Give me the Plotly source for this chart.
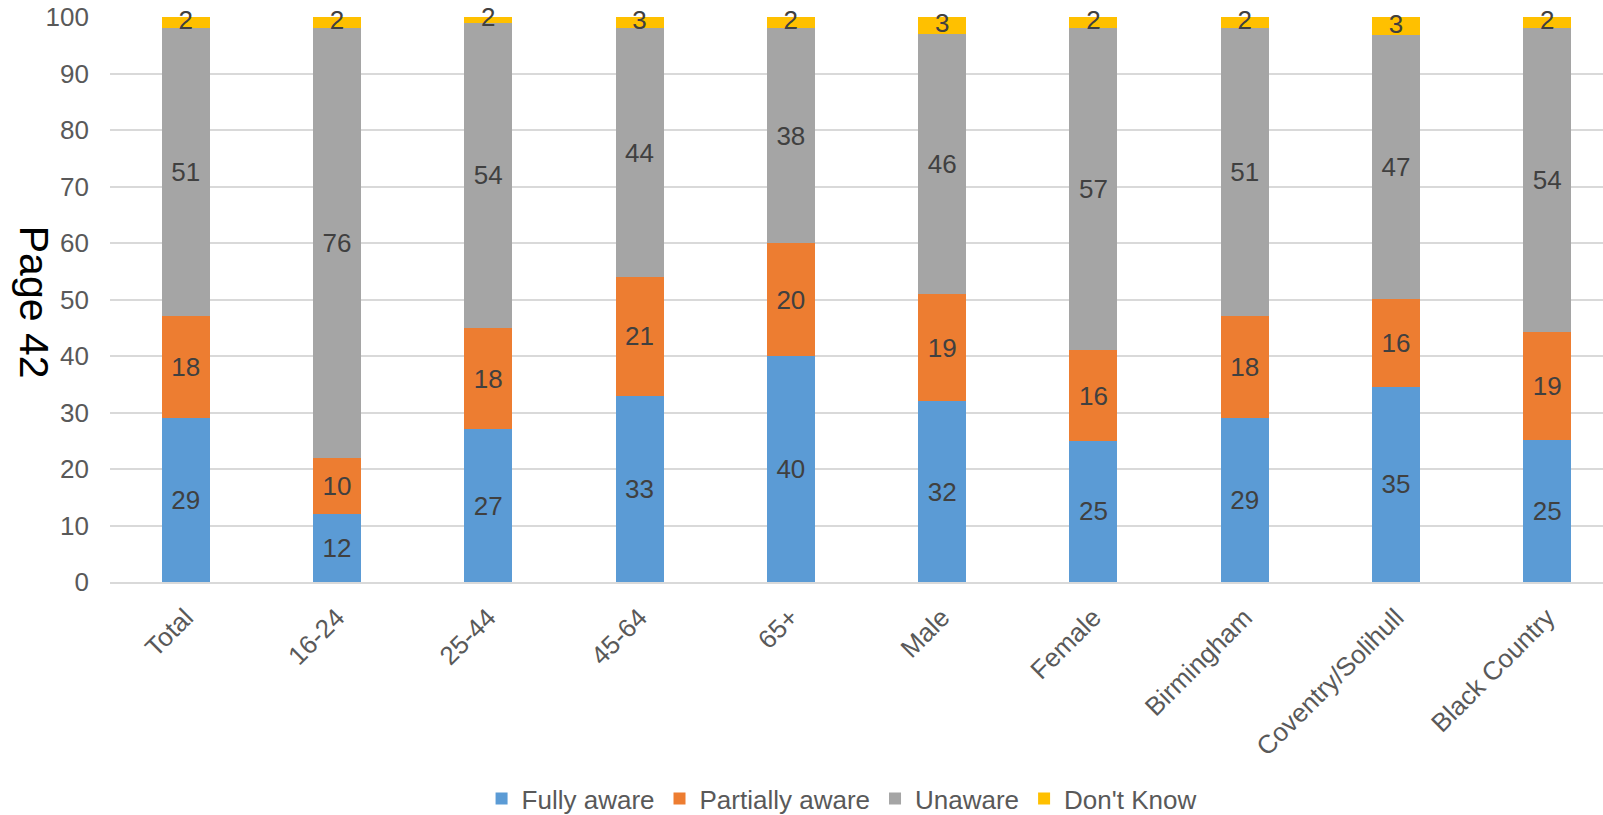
import plotly.graph_objects as go

# Awareness by respondent group (percent)
categories = ["Total", "16-24", "25-44", "45-64", "65+", "Male", "Female",
              "Birmingham", "Coventry/Solihull", "Black Country"]
fully_aware = [29, 12, 27, 33, 40, 32, 25, 29, 34.6, 25.2]
partially_aware = [18, 10, 18, 21, 20, 19, 16, 18, 15.5, 19.1]
unaware = [51, 76, 54, 44, 38, 46, 57, 51, 46.7, 53.8]
dont_know = [2, 2, 2, 3, 2, 3, 2, 2, 3.2, 1.9]

series_names = ["Fully aware", "Partially aware", "Unaware", "Don't Know"]
colors = ["#5B9BD5", "#ED7D31", "#A5A5A5", "#FFC000"]

FONT = "Liberation Sans, Arial, sans-serif"
LABEL_COLOR = "#404040"
AXIS_COLOR = "#595959"
Y_MAX = 100

fig = go.Figure()

series = [fully_aware, partially_aware, unaware, dont_know]
for i, (name, vals, col) in enumerate(zip(series_names, series, colors)):
    show_inside = i < 3
    fig.add_trace(go.Bar(
        x=categories, y=vals, name=name,
        marker=dict(color=col, line=dict(width=0)),
        texttemplate="%{y:.0f}" if show_inside else None,
        textposition="inside" if show_inside else "none",
        insidetextanchor="middle",
        textangle=0,
        textfont=dict(family=FONT, size=26, color=LABEL_COLOR),
        hoverinfo="skip",
    ))

# "Don't Know" labels sit in the middle of the visible part of the top segment
dk_base = [a + b + c for a, b, c in zip(fully_aware, partially_aware, unaware)]
dk_label_y = [(b + min(b + d, Y_MAX)) / 2 for b, d in zip(dk_base, dont_know)]
fig.add_trace(go.Scatter(
    x=categories, y=dk_label_y, mode="text",
    text=[f"{d:.0f}" for d in dont_know],
    textposition="middle center",
    textfont=dict(family=FONT, size=26, color=LABEL_COLOR),
    showlegend=False, hoverinfo="skip", cliponaxis=False,
))

fig.update_layout(
    barmode="stack",
    bargap=0.683,
    width=1603, height=815,
    margin=dict(l=110, r=0, t=17, b=233),
    paper_bgcolor="white", plot_bgcolor="white",
    font=dict(family=FONT, color=AXIS_COLOR),
    uniformtext=dict(minsize=26, mode="show"),
    showlegend=True,
    legend=dict(
        orientation="h", x=0.49, xanchor="center",
        yref="container", y=0.02, yanchor="middle",
        font=dict(family=FONT, size=26, color=AXIS_COLOR),
        traceorder="normal", itemsizing="constant",
    ),
    annotations=[dict(
        text="Page 42", xref="paper", yref="paper", x=-0.0509, y=0.496,
        showarrow=False, textangle=90,
        font=dict(family=FONT, size=41, color="black"),
        xanchor="center", yanchor="middle",
    )],
)

fig.update_xaxes(
    range=[-0.5, 9.368],
    tickangle=-45,
    tickfont=dict(family=FONT, size=26, color=AXIS_COLOR),
    showgrid=False, showline=True, linecolor="#D9D9D9", linewidth=2,
    ticks="", ticklabelstandoff=8,
)
fig.update_yaxes(
    range=[0, Y_MAX], tickmode="linear", tick0=0, dtick=10,
    tickfont=dict(family=FONT, size=26, color=AXIS_COLOR),
    showgrid=True, gridcolor="#D9D9D9", gridwidth=1.5,
    zeroline=False, showline=False, ticks="", ticklabelstandoff=20,
)

fig.write_html("out.html")
